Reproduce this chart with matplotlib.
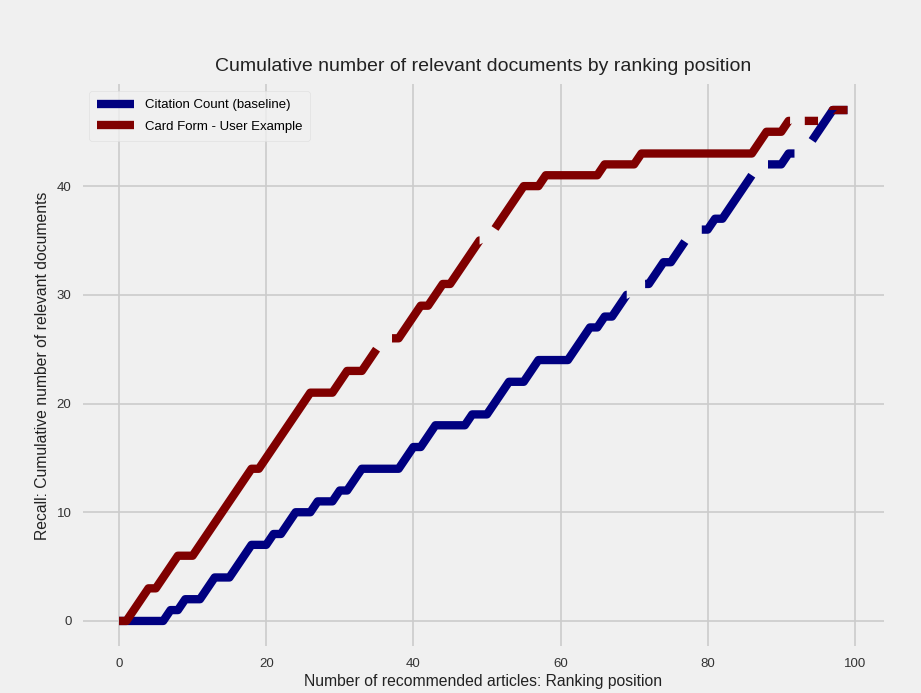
import numpy as np
import matplotlib
matplotlib.use('Agg')
import matplotlib.pyplot as plt

# ranking positions and cumulative number of relevant documents
positions = list(range(100))

citation_count = [0, 0, 0, 0, 0, 0, 0, 1, 1, 2,
                  2, 2, 3, 4, 4, 4, 5, 6, 7, 7,
                  7, 8, 8, 9, 10, 10, 10, 11, 11, 11,
                  12, 12, 13, 14, 14, 14, 14, 14, 14, 15,
                  16, 16, 17, 18, 18, 18, 18, 18, 19, 19,
                  19, 20, 21, 22, 22, 22, 23, 24, 24, 24,
                  24, 24, 25, 26, 27, 27, 28, 28, 29, 30,
                  30, 31, 31, 32, 33, 33, 34, 35, 36, 36,
                  36, 37, 37, 38, 39, 40, 41, 42, 42, 42,
                  42, 43, 43, 44, 44, 45, 46, 47, 47, 47]

card_form = [0, 0, 1, 2, 3, 3, 4, 5, 6, 6,
             6, 7, 8, 9, 10, 11, 12, 13, 14, 14,
             15, 16, 17, 18, 19, 20, 21, 21, 21, 21,
             22, 23, 23, 23, 24, 25, 26, 26, 26, 27,
             28, 29, 29, 30, 31, 31, 32, 33, 34, 35,
             35, 36, 37, 38, 39, 40, 40, 40, 41, 41,
             41, 41, 41, 41, 41, 41, 42, 42, 42, 42,
             42, 43, 43, 43, 43, 43, 43, 43, 43, 43,
             43, 43, 43, 43, 43, 43, 43, 44, 45, 45,
             45, 46, 46, 46, 46, 46, 46, 47, 47, 47]

labels = ['Citation Count (baseline)', 'Card Form - User Example']

# where the dashed lines break, given as x ranges along each line
gaps_citation = [(69.0, 71.5), (76.9, 79.2), (86.0, 88.2), (91.8, 94.2)]
gaps_card = [(35.0, 37.1), (49.0, 51.1), (91.2, 93.2), (95.0, 97.0)]

DPI = 100


def dash_pattern(ax, x, y, gaps):
    # turn gap ranges (in x) into an on/off sequence in points along the path
    pts = ax.transData.transform(np.column_stack([x, y]))
    seg = np.hypot(np.diff(pts[:, 0]), np.diff(pts[:, 1]))
    cum = np.concatenate([[0.0], np.cumsum(seg)])
    scale = 72.0 / DPI
    seq = []
    pos = 0.0
    for a, b in gaps:
        la = np.interp(a, x, cum)
        lb = np.interp(b, x, cum)
        seq += [(la - pos) * scale, (lb - la) * scale]
        pos = lb
    seq += [(cum[-1] - pos + 20) * scale, 20 * scale]
    return (0, seq)


def main():
    plt.style.use('fivethirtyeight')
    plt.rcParams['font.family'] = ['Liberation Sans Narrow', 'Liberation Sans', 'DejaVu Sans']
    plt.rcParams['lines.scale_dashes'] = False
    plt.rcParams['axes.facecolor'] = '#f0f0f0'
    plt.rcParams['figure.facecolor'] = '#f0f0f0'

    fig = plt.figure(figsize=(9.21, 6.93), dpi=DPI)
    ax = fig.add_axes([0.0897, 0.0671, 0.870, 0.811])

    x = np.array(positions, dtype=float)
    ax.set_xlim(x[0] - 0.05 * (x[-1] - x[0]), x[-1] + 0.05 * (x[-1] - x[0]))
    ymax = max(max(citation_count), max(card_form))
    ax.set_ylim(-0.05 * ymax, ymax * 1.05)

    ax.plot(x, citation_count, color='#000080', linewidth=6,
            linestyle=dash_pattern(ax, x, np.array(citation_count, float), gaps_citation),
            label=labels[0])
    ax.plot(x, card_form, color='#800000', linewidth=6,
            linestyle=dash_pattern(ax, x, np.array(card_form, float), gaps_card),
            label=labels[1])

    ax.set_xticks([0, 20, 40, 60, 80, 100])
    ax.set_yticks([0, 10, 20, 30, 40])
    ax.tick_params(labelsize=9.5, colors='#333333', pad=8)
    ax.grid(True, color='#cbcbcb', linewidth=1.2)
    for s in ax.spines.values():
        s.set_visible(False)

    ax.set_title('Cumulative number of relevant documents by ranking position',
                 fontsize=14, color='#222222', pad=10)
    ax.set_xlabel('Number of recommended articles: Ranking position',
                  fontsize=11.3, color='#222222', labelpad=3)
    ax.set_ylabel('Recall: Cumulative number of relevant documents',
                  fontsize=11.3, color='#222222', labelpad=5)

    leg = ax.legend(loc='upper left', fontsize=9.5, frameon=True,
                    handlelength=2.8, labelspacing=0.7, borderpad=0.6)
    leg.get_frame().set_facecolor('#f0f0f0')
    leg.get_frame().set_edgecolor('#dddddd')

    fig.savefig('out.png', dpi=DPI, facecolor=fig.get_facecolor())


if __name__ == "__main__":
    main()
